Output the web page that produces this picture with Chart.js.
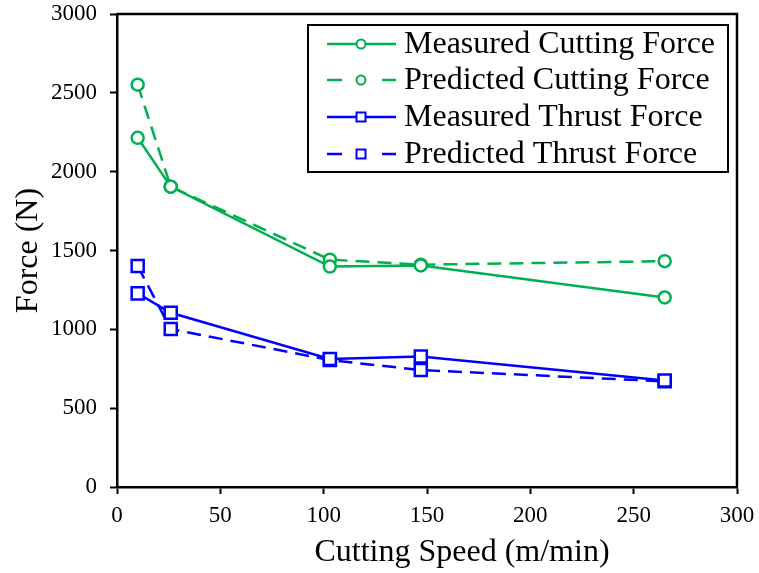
<!DOCTYPE html>
<html lang="en">
<head>
  <meta charset="UTF-8" />
  <title>Cutting and Thrust Force vs Cutting Speed</title>
  <script src="https://cdn.jsdelivr.net/npm/chart.js"></script>
  <style>
    html, body { margin: 0; padding: 0; background: #fff; }
    #wrap { width: 759px; height: 573px; }
  </style>
</head>
<body>
  <div id="wrap"><canvas id="forceChart" width="759" height="573"></canvas></div>

  <script>
    // cutting speed (m/min)
    const speeds = [10, 26, 103, 147, 265];

    // forces (N)
    const measuredCutting = [2215, 1905, 1398, 1405, 1202];
    const predictedCutting = [2552, 1905, 1442, 1410, 1432];
    const measuredThrust = [1228, 1105, 812, 828, 675];
    const predictedThrust = [1402, 1002, 805, 742, 670];

    const seriesLabels = [
      'Measured Cutting Force',
      'Predicted Cutting Force',
      'Measured Thrust Force',
      'Predicted Thrust Force'
    ];

    const xTicks = [0, 50, 100, 150, 200, 250, 300];
    const yTicks = [0, 500, 1000, 1500, 2000, 2500, 3000];
    const xTitle = 'Cutting Speed (m/min)';

    const GREEN = '#00b050';
    const BLUE = '#0000ff';
    const SERIF = "'Liberation Serif', 'Times New Roman', serif";
    const DASH = [14, 8];

    function toPoints(values) {
      return speeds.map((s, i) => ({ x: s, y: values[i] }));
    }

    function series(label, values, color, style, dashed) {
      return {
        label: label,
        data: toPoints(values),
        borderColor: color,
        backgroundColor: '#fff',
        borderWidth: 2.5,
        borderDash: dashed ? DASH : [],
        pointStyle: style,
        pointRadius: style === 'rect' ? 8.5 : 6,
        pointBorderWidth: 2.5,
        pointBorderColor: color,
        pointBackgroundColor: '#fff',
        tension: 0
      };
    }

    // box round the plot, the x title (sits right of centre) and a framed legend
    const frameAndLegend = {
      id: 'frameAndLegend',
      afterDatasetsDraw(chart) {
        const { ctx, chartArea: a } = chart;
        ctx.save();
        ctx.strokeStyle = '#000';
        ctx.lineWidth = 2.5;
        ctx.setLineDash([]);
        ctx.beginPath();
        ctx.moveTo(a.left, a.top);
        ctx.lineTo(a.right, a.top);
        ctx.lineTo(a.right, a.bottom);
        ctx.stroke();

        ctx.fillStyle = '#000';
        ctx.font = '32px ' + SERIF;
        ctx.textAlign = 'center';
        ctx.textBaseline = 'middle';
        ctx.fillText(xTitle, 462, 553);

        // legend box
        const box = { x: 308, y: 25, w: 420, h: 147 };
        ctx.fillStyle = '#fff';
        ctx.fillRect(box.x, box.y, box.w, box.h);
        ctx.lineWidth = 2;
        ctx.strokeRect(box.x, box.y, box.w, box.h);

        const rowY = [44, 80, 117, 154];
        const x0 = 327, x1 = 396, mx = 361;
        ctx.textAlign = 'left';
        chart.data.datasets.forEach((ds, i) => {
          const y = rowY[i];
          ctx.strokeStyle = ds.borderColor;
          ctx.lineWidth = 2.5;
          ctx.beginPath();
          if (ds.borderDash.length) {
            ctx.moveTo(x0, y); ctx.lineTo(x0 + 15, y);
            ctx.moveTo(x1 - 14, y); ctx.lineTo(x1, y);
          } else {
            ctx.moveTo(x0, y); ctx.lineTo(x1, y);
          }
          ctx.stroke();
          ctx.lineWidth = 2;
          ctx.fillStyle = '#fff';
          ctx.beginPath();
          if (ds.pointStyle === 'rect') {
            ctx.rect(mx - 4.5, y - 4.5, 9, 9);
          } else {
            ctx.arc(mx, y, 4.5, 0, Math.PI * 2);
          }
          ctx.fill();
          ctx.stroke();
          ctx.fillStyle = '#000';
          ctx.fillText(ds.label, 404, y + 1);
        });
        ctx.restore();
      }
    };

    new Chart(document.getElementById('forceChart'), {
      type: 'line',
      data: {
        datasets: [
          series(seriesLabels[0], measuredCutting, GREEN, 'circle', false),
          series(seriesLabels[1], predictedCutting, GREEN, 'circle', true),
          series(seriesLabels[2], measuredThrust, BLUE, 'rect', false),
          series(seriesLabels[3], predictedThrust, BLUE, 'rect', true)
        ]
      },
      options: {
        responsive: false,
        animation: false,
        layout: { padding: { top: 14, right: 22, left: 0, bottom: 0 } },
        plugins: {
          legend: { display: false },
          tooltip: { enabled: false }
        },
        scales: {
          x: {
            type: 'linear',
            min: 0,
            max: 300,
            afterBuildTicks: s => { s.ticks = xTicks.map(v => ({ value: v })); },
            afterFit: s => { s.height = 86; s.paddingLeft = 0; s.paddingRight = 0; },
            grid: { drawOnChartArea: false, drawTicks: true, tickLength: 7, tickColor: '#000', tickWidth: 2 },
            border: { display: true, color: '#000', width: 2.5 },
            ticks: { color: '#000', padding: 8, callback: v => String(v), font: { family: SERIF, size: 23 } },
            title: { display: false }
          },
          y: {
            min: 0,
            max: 3000,
            afterBuildTicks: s => { s.ticks = yTicks.map(v => ({ value: v })); },
            afterFit: s => { s.width = 117; s.paddingTop = 0; s.paddingBottom = 0; },
            grid: { drawOnChartArea: false, drawTicks: true, tickLength: 7, tickColor: '#000', tickWidth: 2 },
            border: { display: true, color: '#000', width: 2.5 },
            ticks: { color: '#000', padding: 13, callback: v => String(v), font: { family: SERIF, size: 23 } },
            title: {
              display: true,
              text: 'Force (N)',
              color: '#000',
              padding: { top: 9, bottom: 0 },
              font: { family: SERIF, size: 32 }
            }
          }
        }
      },
      plugins: [frameAndLegend]
    });
  </script>
</body>
</html>
